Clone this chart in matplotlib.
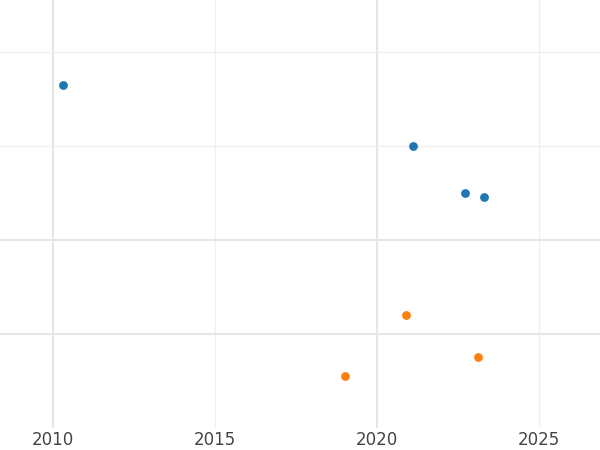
import matplotlib
matplotlib.use("Agg")
import matplotlib.pyplot as plt

blue_x = [2010.3, 2021.1, 2022.7, 2023.3]
blue_y = [3.65, 3.0, 2.5, 2.46]
orange_x = [2020.9, 2023.1, 2019.0]
orange_y = [1.2, 0.755, 0.553]
xticks = [2010, 2015, 2020, 2025]

fig = plt.figure(figsize=(6, 4.5), dpi=100)
ax = fig.add_axes([0, 22 / 450, 1, 428 / 450])
ax.set_xlim(2008.36, 2026.88)
ax.set_ylim(0, 428 / 94)

# darker lines every 10 years, lighter in between
for x in xticks:
    ax.axvline(x, color="#e6e6e6" if x % 10 == 0 else "#f0f0f0", lw=1.5 if x % 10 == 0 else 1, zorder=0)
for y in [1, 2]:
    ax.axhline(y, color="#e6e6e6", lw=1.5, zorder=0)
for y in [3, 4]:
    ax.axhline(y, color="#f0f0f0", lw=1, zorder=0)

ax.scatter(blue_x, blue_y, color="#1f77b4", s=40, zorder=3, linewidths=0)
ax.scatter(orange_x, orange_y, color="#ff7f0e", s=40, zorder=3, linewidths=0)

ax.set_xticks(xticks)
ax.set_xticklabels([str(x) for x in xticks], fontsize=12, color="#444444")
ax.set_yticks([])
ax.tick_params(axis="x", length=0, pad=2)
for s in ax.spines.values():
    s.set_visible(False)

fig.savefig("out.png", dpi=100)
